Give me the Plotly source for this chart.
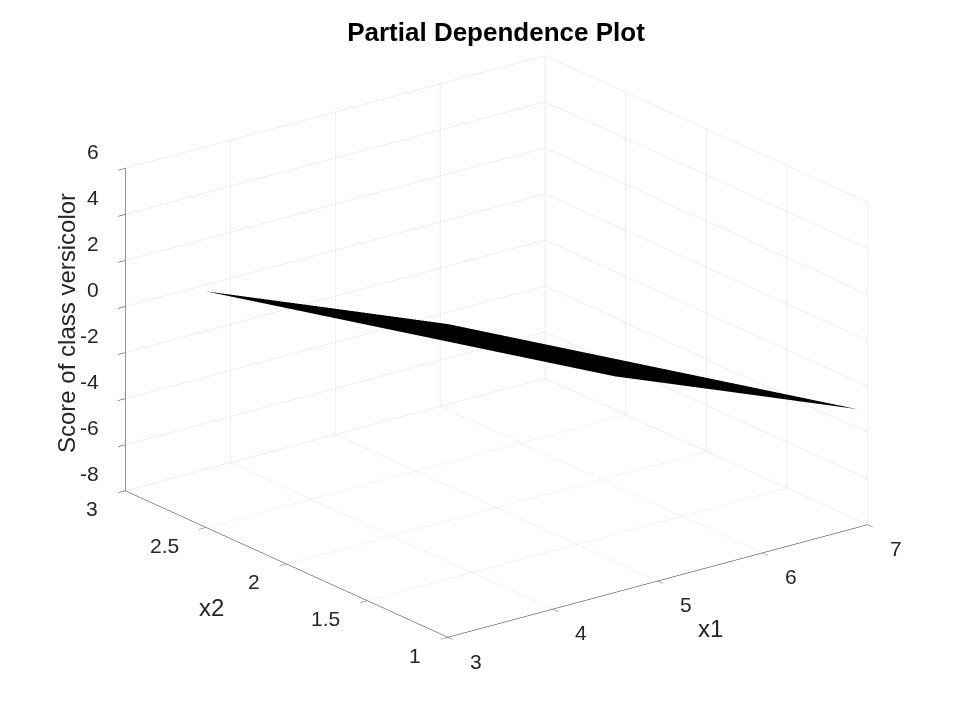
import plotly.graph_objects as go

# grid of the partial dependence surface
x1_vals = [3.0, 4.3, 5.6, 6.9]
x2_vals = [1.0, 1.75, 2.5]
score = [
    [5.60, 2.78, -0.04, -2.86],
    [3.93, 1.11, -1.71, -4.53],
    [2.25, -0.57, -3.39, -6.21],
]

x1_ticks = [3, 4, 5, 6, 7]
x2_ticks = [1, 1.5, 2, 2.5, 3]
z_ticks = [-8, -6, -4, -2, 0, 2, 4, 6]

ink = "#262626"
grid = "#dcdcdc"
font = "Liberation Sans, Arial, sans-serif"
tick_font = dict(family=font, size=21, color=ink)
label_font = dict(family=font, size=24, color=ink)

fig = go.Figure(go.Surface(
    x=x1_vals, y=x2_vals, z=score,
    colorscale=[[0, "black"], [1, "black"]],
    showscale=False,
    lighting=dict(ambient=1, diffuse=0, specular=0, fresnel=0),
    hoverinfo="skip",
))


def axis(rng, ticks):
    return dict(
        range=rng, tickvals=ticks, showticklabels=False,
        title=dict(text=""),
        showgrid=True, gridcolor=grid, gridwidth=1,
        showline=True, linecolor=ink, linewidth=1,
        ticks="outside", tickcolor=ink, ticklen=9,
        showbackground=False, showspikes=False, zeroline=False,
        autorange=False,
    )


# MATLAB-style horizontal tick labels, placed at the tick positions in 3D
tick_notes = []
for t in x1_ticks:
    tick_notes.append(dict(x=t, y=x2_ticks[0], z=z_ticks[0], text=f"{t:g}",
                           xanchor="center", yanchor="middle",
                           xshift=28, yshift=-24))
for t in x2_ticks:
    tick_notes.append(dict(x=x1_ticks[0], y=t, z=z_ticks[0], text=f"{t:g}",
                           xanchor="right", yanchor="middle",
                           xshift=-25, yshift=-18))
for t in z_ticks:
    tick_notes.append(dict(x=x1_ticks[0], y=x2_ticks[-1], z=t, text=f"{t:g}",
                           xanchor="right", yanchor="middle",
                           xshift=-24, yshift=17))
for n in tick_notes:
    n.update(showarrow=False, font=tick_font)

k = 1.564  # overall zoom of the box
fig.update_layout(
    width=960, height=720,
    paper_bgcolor="white",
    margin=dict(l=0, r=0, t=0, b=0),
    title=dict(text="<b>Partial Dependence Plot</b>", x=488 / 960, y=1 - 24 / 720,
               xanchor="center", yanchor="middle",
               font=dict(family=font, size=26, color="black")),
    scene=dict(
        domain=dict(x=[0.027, 0.991], y=[0.06, 1.0]),
        xaxis=axis([3, 7], x1_ticks),
        yaxis=axis([1, 3], x2_ticks),
        zaxis=axis([-8, 6], z_ticks),
        aspectmode="manual",
        aspectratio=dict(x=k, y=k, z=0.65 * k),
        camera=dict(
            projection=dict(type="orthographic"),
            eye=dict(x=-0.571 * 2.0, y=-0.743 * 2.0, z=0.349 * 2.0),
            up=dict(x=0, y=0, z=1),
            center=dict(x=0, y=0, z=0),
        ),
        annotations=tick_notes,
    ),
    annotations=[
        dict(text="x1", x=702 / 960, y=1 - 620 / 720, xref="paper", yref="paper",
             xanchor="center", yanchor="middle", showarrow=False, font=label_font),
        dict(text="x2", x=203 / 960, y=1 - 599 / 720, xref="paper", yref="paper",
             xanchor="center", yanchor="middle", showarrow=False, font=label_font),
        dict(text="Score of class versicolor", x=58 / 960, y=1 - 315 / 720,
             xref="paper", yref="paper", textangle=-90,
             xanchor="center", yanchor="middle", showarrow=False, font=label_font),
    ],
)

fig.write_html("out.html")
